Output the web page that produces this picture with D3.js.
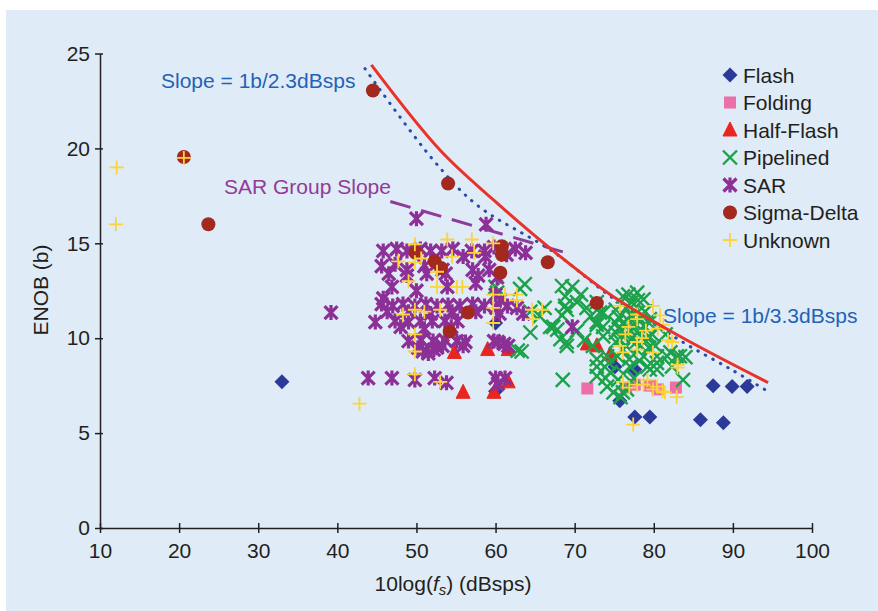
<!DOCTYPE html>
<html>
<head>
<meta charset="utf-8">
<script src="https://cdn.jsdelivr.net/npm/d3@7"></script>
<style>
  body { margin: 0; background: #fff; }
  text { font-family: "Liberation Sans", Arial, Helvetica, sans-serif; }
</style>
</head>
<body>
<div id="chart"></div>
<script>
'use strict';

// ---- data: [10log(fs), ENOB] ----
var flash = [[33,7.7],[60,10.8],[60,7.2],[75.1,8.5],[77.6,8.35],[75.7,6.7],[77.6,5.85],[79.5,5.85],
  [87.5,7.5],[89.9,7.45],[91.8,7.45],[85.9,5.7],[88.8,5.55]];

var folding = [[71.6,7.35],[76.5,7.4],[77.6,7.55],[79.5,7.5],[80.5,7.3],[82.8,7.4]];

var halfFlash = [[54.8,9.25],[59,9.4],[61.6,9.4],[55.9,7.15],[59.8,7.15],[61.6,7.7],[71.6,9.7],[74.5,9.15],[72.8,9.6]];

var pipelined = [[60,12.7],[60.2,12.4],[63.7,12.85],[63.1,12.6],[64.4,11.4],[63.3,9.3],[62.8,9.35],
  [68.4,12.75],[69.7,12.7],[68.8,12.2],[68.8,11.7],[68.4,11.2],[70.3,11.9],[66.9,10.6],[72,11.15],[72.8,10.7],
  [65.6,11.15],[67.3,10.6],[68.2,9.95],[69,9.6],[68.5,7.8],[64.4,10.3],[69,11.5],[67.8,10.45],[69,9.8],
  [72.8,11.9],[73.6,11.35],[72.8,10.85],[73.6,10.1],[72.3,9.6],[76.1,12.2],[77.9,12.4],[78.7,12.05],[76.6,11],
  [76.1,10.1],[77.9,10.3],[79.5,11],[80.4,9.05],[82.1,9.25],[82.9,9.05],[78.7,9.05],[77,8.5],[79.2,8.5],
  [72.8,8.5],[74.1,9.05],[80.4,8.35],[73.2,11.35],[73.6,10.6],[83.7,7.8],[83.3,9.05],[84,9],[72.8,8],
  [74.1,7.45],[74.9,7.15],[76.6,7.3],[72.8,8.9],[75.4,9.05],[79.5,8.35],[80.4,8.7],[81.7,9.05],[76.1,7.15],
  [75.5,7.8],[74.5,8.2],[75.8,6.9],[75.2,11.5],[75.2,10.8],[75.2,10.3],[75.2,9.8],[76.5,11.6],[76.5,10.6],
  [76.5,9.6],[77.8,11.3],[77.8,10.7],[77.8,9.8],[78.9,11.4],[78.9,10.6],[78.9,9.9],[79.8,10.2],[80.2,9.6],
  [76.8,12.3],[78,12],[77.2,11.9],[81.5,10.2],[82.3,8.5],
  [75.6,11.1],[75.6,10.5],[75.6,9.9],[76.1,9.4],[77.1,11.2],[77.1,10.4],[77.1,9.9],[78.3,11],[78.3,10.3],
  [78.3,9.6],[79.4,10.8],[79.4,10.1],[79.4,9.5],[76.9,8.9],[78.2,8.8],[74.3,8.7],[73.9,7.9],[77.5,7.9],
  [76.2,8.1],[70.8,12.3],[71.5,11.6],[66.2,11.6],[70.3,10.4],[71.2,9.9]];

var sar = [[39.2,11.35],[50,16.3],[58.8,16],
  [43.9,7.9],[46.9,7.9],[49.8,7.8],[52.3,7.9],[53.8,7.65],[60,7.9],[61.2,7.9],[60.3,7.6],
  [49,9.85],[50.6,9.9],[52.1,9.85],[53.6,9.9],[55.1,9.85],[55.9,9.6],[59.8,9.85],[61.1,9.7],[50.2,9.5],
  [52.6,9.5],[53.3,9.6],[56.2,9.8],[60.3,9.8],[61.6,9.6],[50.8,9.3],[52.2,9.4],[51.5,9.2],
  [44.8,10.85],[47.3,10.9],[49,10.85],[50.5,10.9],[52,10.9],[53.6,10.9],[55.2,10.9],[48,10.6],[51,10.5],[54.4,10.6],
  [45.6,11.8],[47,11.7],[48.3,11.8],[49.8,11.7],[51.2,11.8],[52.6,11.7],[54,11.75],[55.5,11.7],[57.1,11.8],
  [58.6,11.7],[60.1,11.6],[61.5,11.7],[62.7,11.6],[46.3,11.4],[49,11.4],[51.8,11.3],[54.5,11.4],[57.5,11.4],
  [60.5,11.3],[63.5,11.3],
  [46.9,12.7],[53.9,12.7],[50,12.5],[60,12.3],[60.6,12],[57.5,12.9],[45.8,12.1],
  [45.6,13.8],[47.3,13.9],[48.8,13.6],[51,13.8],[53.3,13.6],[46.5,13.4],[48.8,13.3],[51.3,13.4],[53.7,13.4],
  [57.1,13.6],[59.2,13.6],[60.2,13.2],[57.8,13.3],
  [45.8,14.6],[47.5,14.7],[48.8,14.6],[50.5,14.7],[51.8,14.6],[53.2,14.6],[54.6,14.7],[57,14.6],[58.6,14.6],
  [59.8,14.8],[62.5,14.7],[63.8,14.5],[61.4,14.4],[55.9,14.3],[58.7,14.3],[69.7,10.6]];

var sigmaDelta = [[20.6,19.55],[23.7,16],[44.5,23.05],[54,18.15],[49.9,14.5],[52.3,14.05],[53.1,13.7],
  [56.5,11.35],[54.2,10.35],[60.8,14.85],[60.8,14.4],[60.6,13.45],[66.6,14],[72.8,11.85]];

var unknown = [[12.1,19],[12,16],[42.8,6.55],[20.6,19.5],
  [49.8,14.95],[53.9,15.2],[57,15.2],[59.7,15],[47.7,14.05],[49.8,14],[52.6,13.5],[49,13],[52.6,12.7],
  [55.1,12.7],[55.8,12.7],[61.2,12.3],[62.7,12.3],[64.6,11.5],[65.9,11.5],[48.3,11.25],[49.8,11.5],[53,11.5],
  [59.7,11.6],[59.7,12.3],[49.8,10.2],[49.8,9.3],[49.8,8.1],[53,7.7],[64.7,11],[62.7,12],[51,11.4],[54.5,14.3],
  [57.3,14.5],[50.6,14.2],[59.7,10.8],
  [75.7,11.7],[77.9,11.25],[79.9,11.7],[77.9,9.4],[75.7,9.6],[76.1,7.7],[77.9,7.55],[79.9,7.3],[81.4,7.15],
  [82.9,6.9],[77.4,5.45],[81.8,9.9],[81.2,10.7],[76.4,10.2],[80.5,10.5],[82.3,9.8],[77.9,9.8],[79.9,9.25],
  [76.1,9.25],[83,8.6],[78.7,7.55],[81.1,7.2],[80.4,7.45],[83,8.45],[77.9,11],[78.5,10],
  [76.8,10.6],[79,10.4],[80.8,11.2],[79.2,7.8],[76.9,7.4]];

// limit lines
var redLine = [[44.3,24.4],[53,19.9],[59.7,17.3],[67.3,14.6],[74.85,12.2],[83.3,10.1],[94.45,7.66]];
var dottedLine = [[43.5,24.2],[52.1,19.4],[57.7,17],[67.3,14.55],[74.85,12.1],[80,10.75],[84.2,9.66],[90,8.3],[94.7,7.13]];
var sarSlope = [[46.7,17.2],[68.5,14.55]];

var xTicks = [10,20,30,40,50,60,70,80,90,100];
var yTicks = [0,5,10,15,20,25];

var series = [
  { name: 'Flash', data: flash, shape: 'diamond', color: '#2b3a98' },
  { name: 'Folding', data: folding, shape: 'square', color: '#ec6fa8' },
  { name: 'Half-Flash', data: halfFlash, shape: 'triangle', color: '#e8261f' },
  { name: 'Pipelined', data: pipelined, shape: 'x', color: '#1ca24a' },
  { name: 'SAR', data: sar, shape: 'star', color: '#8c2f97' },
  { name: 'Sigma-Delta', data: sigmaDelta, shape: 'circle', color: '#a3281d' },
  { name: 'Unknown', data: unknown, shape: 'plus', color: '#fdd33a' }
];

//Sizing things.
var width = 878, height = 611;
var margin = { left: 100, top: 53.5, right: 66, bottom: 83 };
var fontSize = '21px';

var svg = d3.select('#chart').append('svg')
  .attr('width', width)
  .attr('height', height);

svg.append('rect')
  .attr('x', 6).attr('y', 10)
  .attr('width', width - 6).attr('height', height - 10)
  .attr('fill', '#dfebf6');

var x = d3.scaleLinear().domain([10, 100]).range([margin.left, width - margin.right]);
var y = d3.scaleLinear().domain([0, 25]).range([height - margin.bottom, margin.top]);

// axes
var xAxis = svg.append('g')
  .attr('transform', 'translate(0,' + y(0) + ')')
  .call(d3.axisBottom(x).tickValues(xTicks).tickSize(5).tickSizeOuter(0));
xAxis.selectAll('.tick line').attr('y1', -5);
xAxis.selectAll('.tick text').attr('y', 15);

var yAxis = svg.append('g')
  .attr('transform', 'translate(' + x(10) + ',0)')
  .call(d3.axisLeft(y).tickValues(yTicks).tickSize(5).tickSizeOuter(0));
yAxis.selectAll('.tick line').attr('x2', -5).attr('x1', 3);
yAxis.selectAll('.tick text').attr('x', -10);

svg.selectAll('.domain, .tick line').attr('stroke', '#231f20').attr('stroke-width', 1.5);
svg.selectAll('.tick text')
  .attr('fill', '#231f20')
  .style('font-size', fontSize)
  .style('font-family', '"Liberation Sans", Arial, sans-serif');

// axis titles
var xTitle = svg.append('text')
  .attr('x', 453).attr('y', 591)
  .attr('text-anchor', 'middle')
  .attr('fill', '#231f20')
  .style('font-size', fontSize);
xTitle.append('tspan').text('10log(');
xTitle.append('tspan').attr('font-style', 'italic').text('f');
xTitle.append('tspan').attr('font-style', 'italic').attr('font-size', '15px').attr('dy', 4).text('s');
xTitle.append('tspan').attr('dy', -4).text(') (dBsps)');

svg.append('text')
  .attr('transform', 'translate(48,290) rotate(-90)')
  .attr('text-anchor', 'middle')
  .attr('fill', '#231f20')
  .style('font-size', fontSize)
  .text('ENOB (b)');

// lines
var line = d3.line().x(function (d) { return x(d[0]); }).y(function (d) { return y(d[1]); });

svg.append('path')
  .attr('d', line.curve(d3.curveCatmullRom)(dottedLine))
  .attr('fill', 'none')
  .attr('stroke', '#2a4aa8')
  .attr('stroke-width', 3)
  .attr('stroke-linecap', 'round')
  .attr('stroke-dasharray', '0.5,8');

svg.append('path')
  .attr('d', line.curve(d3.curveLinear)(sarSlope))
  .attr('fill', 'none')
  .attr('stroke', '#8e3b9c')
  .attr('stroke-width', 3)
  .attr('stroke-dasharray', '21,11');

// markers
function marker(sel, shape, color) {
  if (shape === 'diamond') {
    sel.append('path').attr('d', 'M0,-7.5L7.5,0L0,7.5L-7.5,0Z').attr('fill', color);
  } else if (shape === 'square') {
    sel.append('rect').attr('x', -6).attr('y', -6).attr('width', 12).attr('height', 12).attr('fill', color);
  } else if (shape === 'triangle') {
    sel.append('path').attr('d', 'M0,-8L7,6L-7,6Z').attr('fill', color)
      .attr('stroke', color).attr('stroke-width', 1).attr('stroke-linejoin', 'round');
  } else if (shape === 'x') {
    sel.append('path').attr('d', 'M-7,-7L7,7M7,-7L-7,7').attr('stroke', color).attr('stroke-width', 2.4).attr('fill', 'none');
  } else if (shape === 'star') {
    sel.append('path').attr('d', 'M-6.5,-6.5L6.5,6.5M6.5,-6.5L-6.5,6.5M0,-7.5L0,7.5')
      .attr('stroke', color).attr('stroke-width', 3.2).attr('fill', 'none');
  } else if (shape === 'circle') {
    sel.append('circle').attr('r', 7).attr('fill', color);
  } else if (shape === 'plus') {
    sel.append('path').attr('d', 'M-7,0L7,0M0,-7L0,7').attr('stroke', color).attr('stroke-width', 1.8).attr('fill', 'none');
  }
}

series.forEach(function (s) {
  svg.append('g').selectAll('g')
    .data(s.data)
    .enter().append('g')
    .attr('transform', function (d) { return 'translate(' + x(d[0]) + ',' + y(d[1]) + ')'; })
    .each(function () { marker(d3.select(this), s.shape, s.color); });
});

svg.append('path')
  .attr('d', line.curve(d3.curveCatmullRom)(redLine))
  .attr('fill', 'none')
  .attr('stroke', '#e8322a')
  .attr('stroke-width', 3);

// annotations
svg.append('text').attr('x', 161).attr('y', 88).attr('fill', '#1f63b5').style('font-size', fontSize).text('Slope = 1b/2.3dBsps');
svg.append('text').attr('x', 224).attr('y', 194).attr('fill', '#933a99').style('font-size', fontSize).text('SAR Group Slope');
svg.append('text').attr('x', 663).attr('y', 323).attr('fill', '#1f63b5').style('font-size', fontSize).text('Slope = 1b/3.3dBsps');

// legend
var legend = svg.append('g');
series.forEach(function (s, i) {
  var row = legend.append('g').attr('transform', 'translate(730,' + (75 + i * 27.5) + ')');
  marker(row, s.shape, s.color);
  row.append('text')
    .attr('x', 13).attr('dy', '0.36em')
    .attr('fill', '#231f20')
    .style('font-size', fontSize)
    .text(s.name);
});
</script>
</body>
</html>
